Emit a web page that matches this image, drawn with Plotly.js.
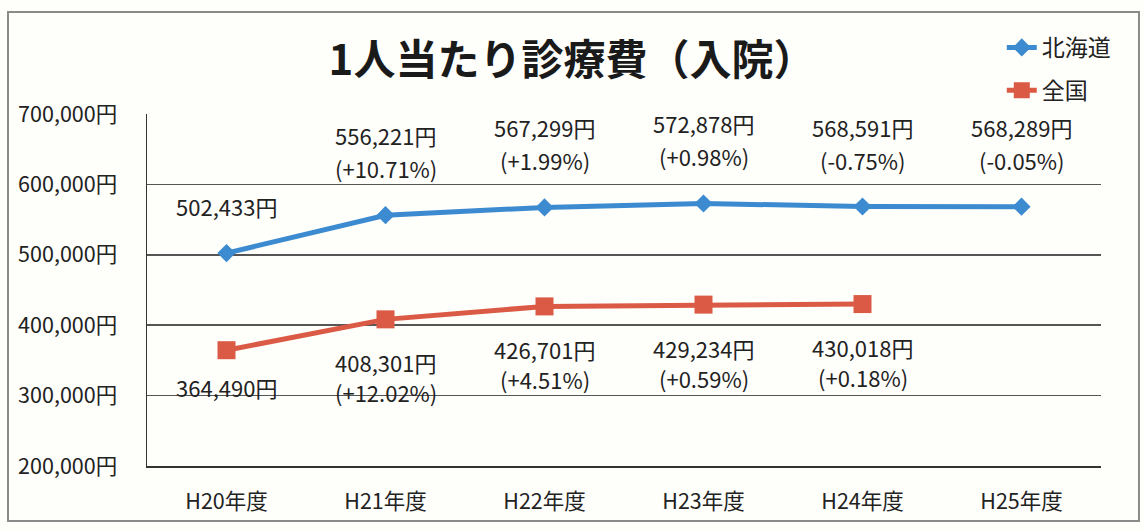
<!DOCTYPE html>
<html>
<head>
<meta charset="utf-8">
<script src="https://cdn.plot.ly/plotly-3.0.1.min.js"></script>
<style>html,body{margin:0;padding:0;background:#fefefb;}#chart{width:1144px;height:530px;}</style>
</head>
<body>
<div id="chart"></div>
<script>
const categories = ['H20年度','H21年度','H22年度','H23年度','H24年度','H25年度'];
const hokkaidoValues = [502433, 556221, 567299, 572878, 568591, 568289];
const hokkaidoChange = [null, '+10.71%', '+1.99%', '+0.98%', '-0.75%', '-0.05%'];
const nationalValues = [364490, 408301, 426701, 429234, 430018];
const nationalChange = [null, '+12.02%', '+4.51%', '+0.59%', '+0.18%'];
const yTickVals = [200000, 300000, 400000, 500000, 600000, 700000];
const yTickText = ['200,000円','300,000円','400,000円','500,000円','600,000円','700,000円'];

const FONT = '"Noto Sans CJK JP", "Noto Sans", sans-serif';
const fmt = v => v.toLocaleString('en-US') + '円';
const labelFont = {family: FONT, size: 22, color: '#222'};

const annotations = [];
function addLabel(x, y, text, shift) {
  annotations.push({x: x, y: y, xref: 'x', yref: 'y', text: text, showarrow: false,
    yanchor: 'middle', yshift: shift, font: labelFont});
}
hokkaidoValues.forEach((v, i) => {
  if (hokkaidoChange[i]) {
    addLabel(categories[i], v, fmt(v), 80);
    addLabel(categories[i], v, '(' + hokkaidoChange[i] + ')', 47);
  } else {
    addLabel(categories[i], v, fmt(v), 47);
  }
});
nationalValues.forEach((v, i) => {
  addLabel(categories[i], v, fmt(v), nationalChange[i] ? -43 : -37);
  if (nationalChange[i]) addLabel(categories[i], v, '(' + nationalChange[i] + ')', -73);
});

const traces = [
  {
    x: categories, y: hokkaidoValues, name: '北海道', type: 'scatter', mode: 'lines+markers',
    line: {color: '#3C8BD0', width: 5},
    marker: {symbol: 'diamond', size: 14, color: '#3C8BD0'},
    legendgroup: 'a'
  },
  {
    x: categories.slice(0, nationalValues.length), y: nationalValues, name: '全国', type: 'scatter', mode: 'lines+markers',
    line: {color: '#DB5A45', width: 5},
    marker: {symbol: 'square', size: 18, color: '#DB5A45'},
    legendgroup: 'b'
  }
];

const layout = {
  width: 1144, height: 530,
  margin: {l: 147, r: 43, t: 114, b: 64},
  paper_bgcolor: '#fefefb', plot_bgcolor: '#fefefb',
  title: {text: '1人当たり診療費（入院）', x: 0.5, xref: 'container', y: 0.887, yanchor: 'middle',
    font: {family: FONT, size: 42, color: '#1a1a1a', weight: 'bold'}},
  font: {family: FONT, color: '#222'},
  showlegend: true,
  legend: {x: 0.896, y: 1.25, xanchor: 'left', yanchor: 'top', bgcolor: 'rgba(0,0,0,0)',
    font: {family: FONT, size: 23, color: '#222'}, traceorder: 'grouped', tracegroupgap: 10},
  xaxis: {type: 'category', range: [-0.5, 5.5], showgrid: false, showline: true,
    linecolor: '#333', linewidth: 1.5, ticks: '', ticklabelstandoff: 16,
    tickfont: {family: FONT, size: 21.5, color: '#222'}, fixedrange: true},
  yaxis: {range: [200000, 700000], tickvals: yTickVals, ticktext: yTickText,
    showgrid: true, gridcolor: '#555', gridwidth: 1.5, showline: true, linecolor: '#333', linewidth: 1.5,
    zeroline: false, ticks: '', ticklabelstandoff: 24,
    tickfont: {family: FONT, size: 21.5, color: '#222'}, fixedrange: true},
  annotations: annotations,
  shapes: [{type: 'rect', xref: 'paper', yref: 'paper',
    x0: -0.1457, x1: 1.0398, y0: -0.156, y1: 1.29,
    line: {color: '#8a8a8a', width: 2}, fillcolor: 'rgba(0,0,0,0)', layer: 'below'}]
};

Plotly.newPlot('chart', traces, layout, {staticPlot: true});
</script>
</body>
</html>
